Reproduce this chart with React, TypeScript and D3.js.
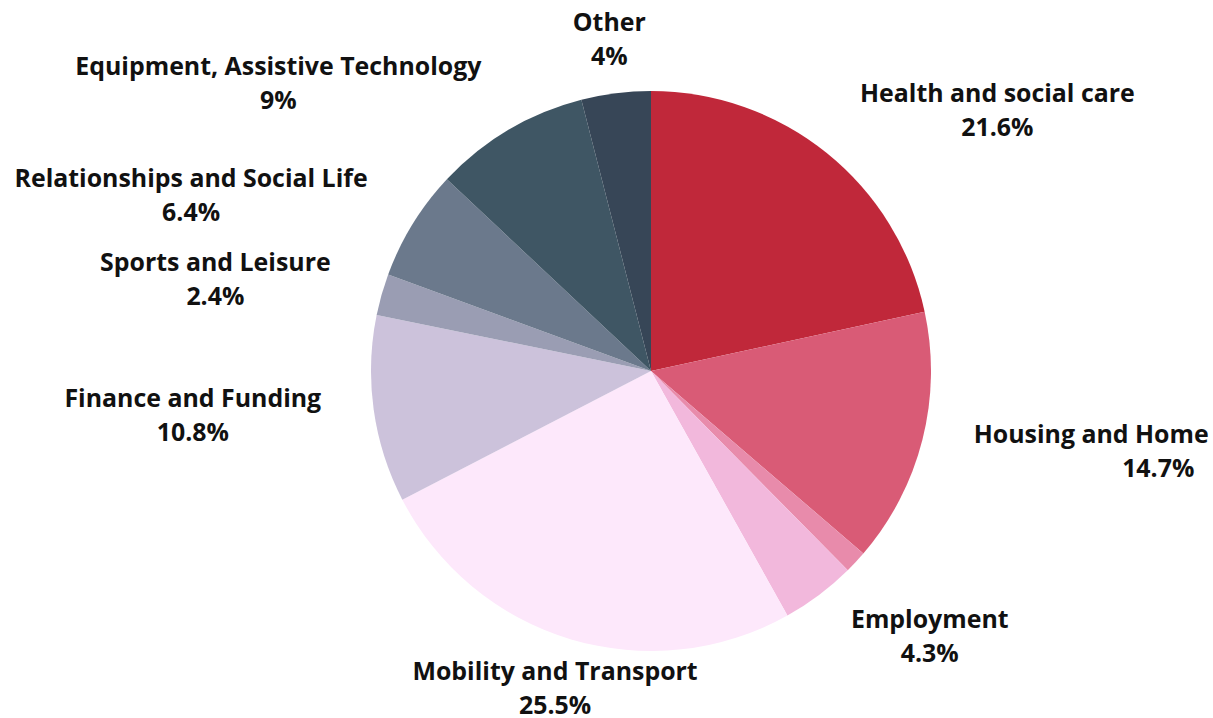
import React from "react";
import * as d3 from "d3";

const categories = [
  "Health and social care",
  "Housing and Home",
  "",
  "Employment",
  "Mobility and Transport",
  "Finance and Funding",
  "Sports and Leisure",
  "Relationships and Social Life",
  "Equipment, Assistive Technology",
  "Other",
];
const values = [21.6, 14.7, 1.3, 4.3, 25.5, 10.8, 2.4, 6.4, 9, 4];
const valueLabels = ["21.6%", "14.7%", "", "4.3%", "25.5%", "10.8%", "2.4%", "6.4%", "9%", "4%"];
const colors = [
  "#c0283a",
  "#d95b76",
  "#e88bab",
  "#f2b8dc",
  "#fde8fb",
  "#ccc2db",
  "#9a9db3",
  "#6b798c",
  "#3f5664",
  "#374657",
];

const W = 1213;
const H = 718;
const CX = 651;
const CY = 371;
const R = 280;
const LABEL_R = 333;
const FONT = 24.9;
const LINE = 34;
// extra horizontal shift for a value line (layout tweak)
const valueLineShift: Record<string, number> = { "Housing and Home": 67 };

function measure(text: string): number {
  if (typeof document === "undefined") return text.length * FONT * 0.6;
  const c = document.createElement("canvas");
  const ctx = c.getContext("2d")!;
  ctx.font = `bold ${FONT}px "Open Sans"`;
  return ctx.measureText(text).width;
}

export default function App() {
  const pie = d3.pie<number>().sort(null).value((d) => d);
  const arcs = pie(values);
  const arc = d3.arc<d3.PieArcDatum<number>>().innerRadius(0).outerRadius(R);

  return (
    <svg width={W} height={H} style={{ position: "absolute", left: 0, top: 0 }}>
      <g transform={`translate(${CX},${CY})`}>
        {arcs.map((a, i) => (
          <path key={i} d={arc(a) || ""} fill={colors[i]} />
        ))}
      </g>
      {arcs.map((a, i) => {
        if (!categories[i]) return null;
        const mid = (a.startAngle + a.endAngle) / 2;
        const s = Math.sin(mid);
        const c = Math.cos(mid);
        const ax = CX + LABEL_R * s;
        const ay = CY - LABEL_R * c;
        const w = Math.max(measure(categories[i]), measure(valueLabels[i]));
        let center: number;
        if (Math.abs(s) < 0.4) center = ax;
        else if (s > 0) center = ax + w / 2;
        else center = ax - w / 2;
        const shift = valueLineShift[categories[i]] || 0;
        const y1 = ay - LINE / 2 + FONT * 0.3;
        return (
          <g key={i} fontFamily="'Open Sans', sans-serif" fontWeight="bold" fontSize={FONT} fill="#111" textAnchor="middle">
            <text x={center} y={y1}>{categories[i]}</text>
            <text x={center + shift} y={y1 + LINE}>{valueLabels[i]}</text>
          </g>
        );
      })}
    </svg>
  );
}
